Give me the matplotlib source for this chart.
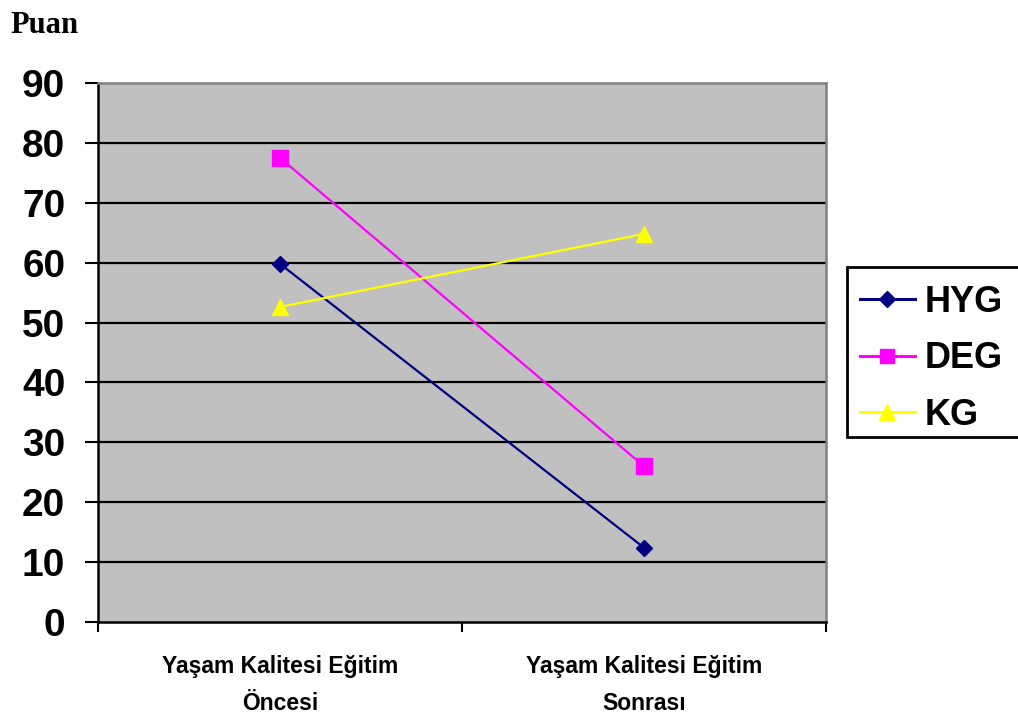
import matplotlib
matplotlib.use("Agg")
import matplotlib.pyplot as plt
from matplotlib.ticker import FixedLocator
from matplotlib.patches import Rectangle

# Data
categories = ["Yaşam Kalitesi Eğitim\nÖncesi", "Yaşam Kalitesi Eğitim\nSonrası"]
series_names = ["HYG", "DEG", "KG"]
hyg = [59.8, 12.4]
deg = [77.5, 26.0]
kg = [52.6, 64.8]
y_ticks = [0, 10, 20, 30, 40, 50, 60, 70, 80, 90]

colors = ["#000080", "#FF00FF", "#FFFF00"]
markers = ["D", "s", "^"]
marker_sizes = [8.3, 11.0, 11.5]

W, H = 1018, 717
fig = plt.figure(figsize=(W / 100, H / 100), dpi=100)
ax = fig.add_axes([98 / W, 1 - 622 / H, (826 - 98) / W, (622 - 83) / H])
ax.set_facecolor("#C0C0C0")

x = list(range(len(categories)))
for vals, name, c, m, ms in zip([hyg, deg, kg], series_names, colors, markers, marker_sizes):
    ax.plot(x, vals, color=c, marker=m, markersize=ms, linewidth=1.6,
            markeredgecolor=c, label=name, zorder=3)

ax.set_xlim(-0.5, len(categories) - 0.5)
ax.set_ylim(0, 90)

# Horizontal gridlines
for v in y_ticks[1:-1]:
    ax.axhline(v, color="black", linewidth=1.6, zorder=1)

ax.set_yticks(y_ticks)
ax.set_yticklabels([str(v) for v in y_ticks], fontsize=28,
                   fontfamily="Liberation Sans", fontweight="bold")
ax.tick_params(axis="y", direction="out", length=9.5, width=1.5, pad=14)

ax.set_xticks(x)
ax.set_xticklabels(categories, fontsize=16.5, fontweight="bold",
                   fontfamily="Liberation Sans", linespacing=1.75)
ax.tick_params(axis="x", which="major", length=0, pad=24)
ax.xaxis.set_minor_locator(FixedLocator([-0.5, 0.5, 1.5]))
ax.tick_params(axis="x", which="minor", direction="out", length=7, width=1.5)

for side in ["left", "bottom"]:
    ax.spines[side].set_color("black")
    ax.spines[side].set_linewidth(1.8)
for side in ["top", "right"]:
    ax.spines[side].set_color("#808080")
    ax.spines[side].set_linewidth(1.8)

fig.text(10 / W, 1 - 33 / H, "Puan", fontsize=22, fontweight="bold",
         fontfamily="Liberation Serif", ha="left", va="baseline")

# Legend box, running past the right edge of the figure
fig.patches.append(Rectangle((847 / W, 1 - 437 / H), 200 / W, 170 / H,
                             transform=fig.transFigure, facecolor="white",
                             edgecolor="black", linewidth=2.0, zorder=-1))

leg = ax.legend(loc="upper left", bbox_to_anchor=(860 / W, 1 - 285 / H),
                bbox_transform=fig.transFigure, frameon=False,
                prop={"family": "Liberation Sans", "weight": "bold", "size": 26},
                handlelength=1.52, handletextpad=0.28, borderpad=0,
                labelspacing=0.59, markerscale=0.95, borderaxespad=0)
for line in leg.get_lines():
    line.set_linewidth(2.2)

fig.savefig("out.png", dpi=100)
